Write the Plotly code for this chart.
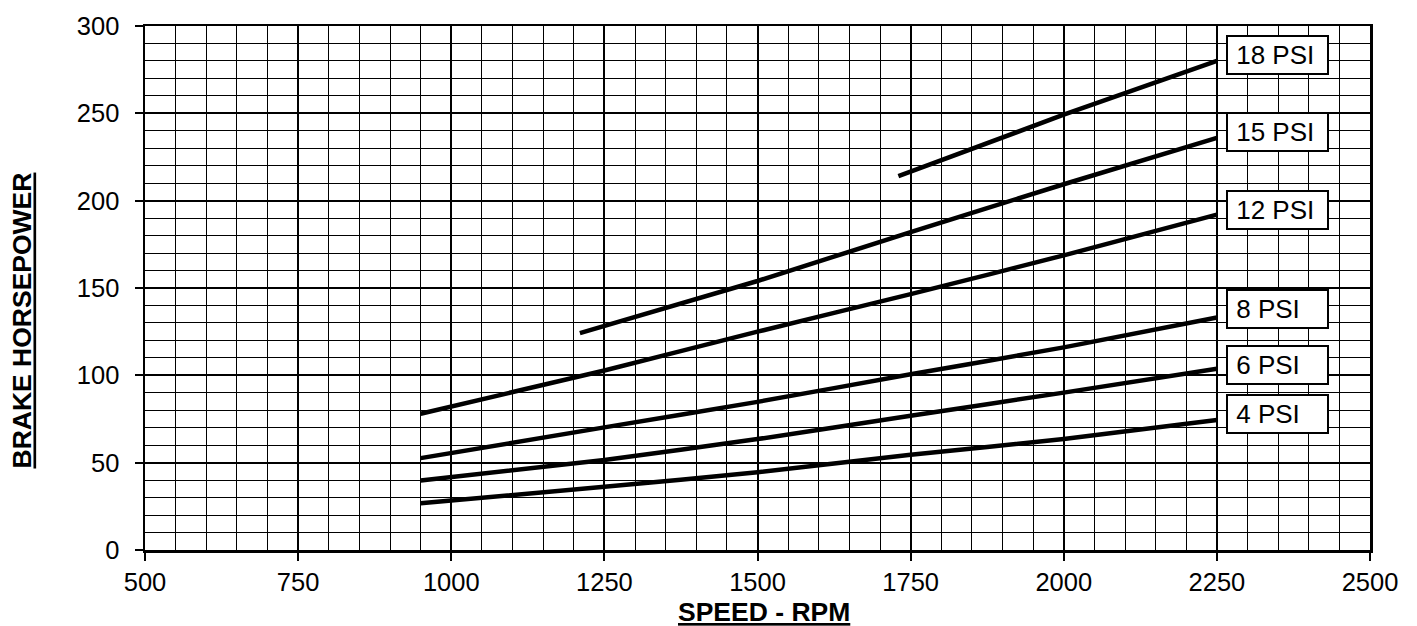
import plotly.graph_objects as go

# ---- data ----
rpm_low = [950, 1250, 1500, 1750, 2000, 2250]
psi4 = [26.7, 36.2, 44.5, 54.5, 63.6, 74.4]
psi6 = [39.8, 51.5, 63.5, 76.9, 90.1, 103.8]
psi8 = [52.6, 70.2, 84.8, 100.6, 116.0, 133.1]
psi12 = [78.0, 102.8, 125.0, 146.5, 168.7, 192.0]
rpm15 = [1210, 1500, 1750, 2000, 2250]
psi15 = [124.2, 154.0, 182.0, 209.4, 236.0]
rpm18 = [1730, 2000, 2250]
psi18 = [214.0, 249.2, 280.0]

labels = ["4 PSI", "6 PSI", "8 PSI", "12 PSI", "15 PSI", "18 PSI"]
x_ticks = [500, 750, 1000, 1250, 1500, 1750, 2000, 2250, 2500]
y_ticks = [0, 50, 100, 150, 200, 250, 300]

series = [
    (rpm_low, psi4),
    (rpm_low, psi6),
    (rpm_low, psi8),
    (rpm_low, psi12),
    (rpm15, psi15),
    (rpm18, psi18),
]

FONT = "Arial, Liberation Sans, sans-serif"

fig = go.Figure()
for (xs, ys), name in zip(series, labels):
    fig.add_trace(go.Scatter(
        x=xs, y=ys, mode="lines", name=name,
        line=dict(color="black", width=4.5, shape="spline", smoothing=0.5),
        showlegend=False, hoverinfo="skip",
    ))

# label boxes at the end of each curve (small pixel nudges)
label_shift = [6, 4, 9, 5, 6, 6]
for (xs, ys), name, sh in zip(series, labels, label_shift):
    fig.add_annotation(
        x=xs[-1], y=ys[-1], xref="x", yref="y",
        text="&nbsp;" + name, showarrow=False,
        xanchor="left", yanchor="middle", xshift=9, yshift=sh,
        align="left", width=97, height=34,
        bordercolor="black", borderwidth=2, borderpad=1,
        bgcolor="white",
        font=dict(family=FONT, size=26, color="black"),
    )

fig.add_annotation(
    text="<b><u>SPEED - RPM</u></b>", xref="paper", yref="paper",
    x=0.505, y=-0.118, xanchor="center", yanchor="middle", showarrow=False,
    font=dict(family=FONT, size=26.5, color="black"),
)
fig.add_annotation(
    text="<b><u>BRAKE HORSEPOWER</u></b>", xref="paper", yref="paper",
    x=-0.1, y=0.437, xanchor="center", yanchor="middle", showarrow=False,
    textangle=-90,
    font=dict(family=FONT, size=26.5, color="black"),
)

axis_common = dict(
    showline=True, linecolor="black", linewidth=2.5, mirror=True,
    ticks="outside", ticklen=8, tickwidth=2, tickcolor="black",
    showgrid=True, gridcolor="black", gridwidth=2,
    zeroline=False,
    tickfont=dict(family=FONT, size=25.5, color="black"),
)

fig.update_xaxes(
    range=[500, 2500], tickvals=x_ticks, ticktext=[str(v) for v in x_ticks],
    minor=dict(dtick=50, showgrid=True, gridcolor="black", gridwidth=1, ticks=""),
    ticklabelstandoff=0,
    **axis_common,
)
fig.update_yaxes(
    range=[0, 300], tickvals=y_ticks, ticktext=[str(v) for v in y_ticks],
    minor=dict(dtick=10, showgrid=True, gridcolor="black", gridwidth=1, ticks=""),
    ticklabelstandoff=10,
    **axis_common,
)

fig.update_layout(
    width=1417, height=626,
    margin=dict(l=145, r=47, t=22, b=76),
    paper_bgcolor="white", plot_bgcolor="white",
    font=dict(family=FONT, size=25, color="black"),
)

fig.write_html("out.html", config={"displayModeBar": False, "staticPlot": True})

# remove the default page margin so the figure sits at the window's corner
with open("out.html", "r", encoding="utf-8") as f:
    html = f.read()
html = html.replace("<head>", "<head><style>html,body{margin:0;padding:0;overflow:hidden;}</style>", 1)
with open("out.html", "w", encoding="utf-8") as f:
    f.write(html)
